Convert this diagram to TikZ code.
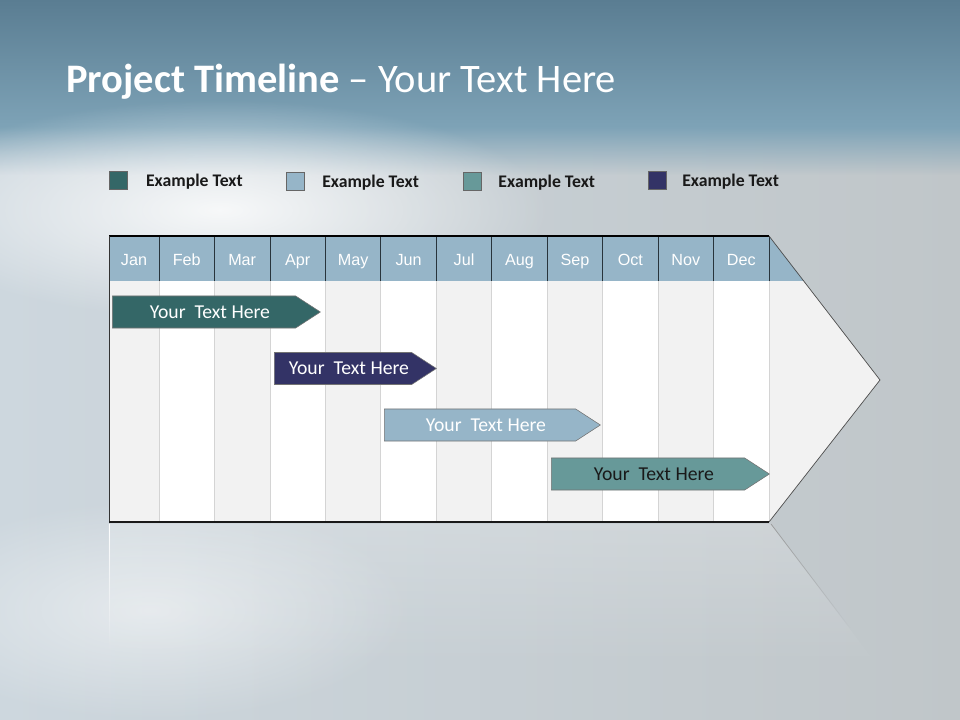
\documentclass[tikz,border=0pt]{standalone}
\usepackage{fontspec}
\setmainfont{Carlito}
\newfontfamily\arialfont{Liberation Sans}
\usetikzlibrary{positioning,shapes.symbols,fadings}

\definecolor{tealdark}{RGB}{52,103,103}
\definecolor{tealmid}{RGB}{103,153,153}
\definecolor{navy}{RGB}{51,51,102}
\definecolor{hdblue}{RGB}{150,181,200}
\definecolor{hdline}{RGB}{40,52,60}
\definecolor{colgray}{RGB}{242,242,242}
\definecolor{sepgray}{RGB}{212,212,212}
\definecolor{bandtop}{RGB}{90,125,146}
\definecolor{bandbot}{RGB}{126,163,183}
\definecolor{bgleft}{RGB}{205,215,222}
\definecolor{bgright}{RGB}{192,198,201}
\tikzfading[name=glow, inner color=transparent!0, outer color=transparent!100]

\begin{document}
\begin{tikzpicture}[
  x=0.025cm, y=-0.025cm,
  legsq/.style={draw=black!60, minimum size=0.45cm, inner sep=0pt, outer sep=0pt},
  legtxt/.style={font=\fontsize{12.6}{14}\selectfont\bfseries, text=black!90, inner sep=0pt},
  month/.style={fill=hdblue, draw=hdline, line width=0.6pt, minimum width=1.386cm,
    minimum height=1.125cm, inner sep=0pt, outer sep=0pt, text height=11.5pt, text depth=2pt,
    font=\arialfont\fontsize{11.5}{14}\selectfont, text=white},
  sep/.style={sepgray, line width=0.6pt},
  bar/.style={signal, signal to=east, signal pointer angle=66, draw=black!55,
    line width=0.4pt, inner sep=0pt, anchor=west, minimum height=0.8cm,
    font=\fontsize{14}{16}\selectfont, text=white,
    execute at begin node=\hspace*{0.3cm}}
]
\useasboundingbox (0,0) rectangle (960,720);

% background
\shade[left color=bgleft, right color=bgright] (0,120) rectangle (960,720);
\shade[top color=bandtop, bottom color=bandbot] (0,0) rectangle (960,128);
\fill[bandbot, path fading=south] (0,127) rectangle (960,175);
\fill[white, opacity=0.85, path fading=glow] (220,210) ellipse [x radius=330, y radius=110];
\fill[white, opacity=0.5, path fading=glow] (150,610) ellipse [x radius=260, y radius=110];

% title
\node[anchor=west, text=white, inner sep=0pt, font=\fontsize{28.8}{32}\selectfont] (title) at (66,82)
  {\textbf{Project Timeline} \textendash{} Your Text Here};

% legend
\node[legsq, fill=tealdark] (leg1) at (118,180) {};
\node[legtxt, right=0.47cm of leg1, yshift=-1pt] (lt1) {Example Text};
\node[legsq, fill=hdblue] (leg2) at (295,181) {};
\node[legtxt, right=0.45cm of leg2, yshift=-1pt] (lt2) {Example Text};
\node[legsq, fill=tealmid] (leg3) at (472,181) {};
\node[legtxt, right=0.43cm of leg3, yshift=-1pt] (lt3) {Example Text};
\node[legsq, fill=navy] (leg4) at (657,180) {};
\node[legtxt, right=0.4cm of leg4, yshift=-1pt] (lt4) {Example Text};

% arrow body
\coordinate (tip) at (880,380);
\coordinate (bl) at (109,522);
\fill[colgray] (769,236) -- (tip) -- (769,522) -- cycle;
\fill[hdblue] (769,236) -- (804,281) -- (769,281) -- cycle;

% month header
\node[month, minimum width=1.25cm, anchor=north west] (jan) at (109,236) {Jan};
\node[month, right=0pt of jan] (feb) {Feb};
\node[month, right=0pt of feb] (mar) {Mar};
\node[month, right=0pt of mar] (apr) {Apr};
\node[month, right=0pt of apr] (may) {May};
\node[month, right=0pt of may] (jun) {Jun};
\node[month, right=0pt of jun] (jul) {Jul};
\node[month, right=0pt of jul] (aug) {Aug};
\node[month, right=0pt of aug] (sep) {Sep};
\node[month, right=0pt of sep] (oct) {Oct};
\node[month, right=0pt of oct] (nov) {Nov};
\node[month, right=0pt of nov] (dec) {Dec};

% month columns
\foreach \m/\c in {jan/colgray, feb/white, mar/colgray, apr/white, may/colgray, jun/white,
                   jul/colgray, aug/white, sep/colgray, oct/white, nov/colgray, dec/white}
  \fill[\c] (\m.south west) rectangle (\m.east |- bl);
\foreach \m in {jan, feb, mar, apr, may, jun, jul, aug, sep, oct, nov, dec}
  \draw[sep] (\m.south east) -- (\m.south east |- bl);

% outline
\draw[black, line width=0.8pt] (jan.north west) -- (dec.north east);
\draw[black!80, line width=0.6pt] (jan.north west) -- (bl);
\draw[black!70, line width=0.5pt] (dec.north east) -- (tip) -- (dec.south east |- bl);
\draw[black!90, line width=1.2pt] (bl) -- (dec.south east |- bl);

% reflection
\fill[white, opacity=0.2, path fading=south] (109,524) -- (771,524) -- (880,668) -- (109,668) -- cycle;
\draw[black!40, line width=0.5pt, path fading=south] (771,524) -- (850,628);
\draw[white, line width=0.6pt, path fading=south] (109,524) -- (109,645);

% bars
\node[bar, fill=tealdark, minimum width=5.2cm] (bar1) at (112,312) {Your\ \ Text Here};
\node[bar, fill=navy, minimum width=4.05cm] (bar2) at (274,368.5) {Your\ \ Text Here};
\node[bar, fill=hdblue, minimum width=5.4cm] (bar3) at (384,425) {Your\ \ Text Here};
\node[bar, fill=tealmid, text=black!90, minimum width=5.45cm] (bar4) at (551,474) {Your\ \ Text Here};
\end{tikzpicture}
\end{document}
